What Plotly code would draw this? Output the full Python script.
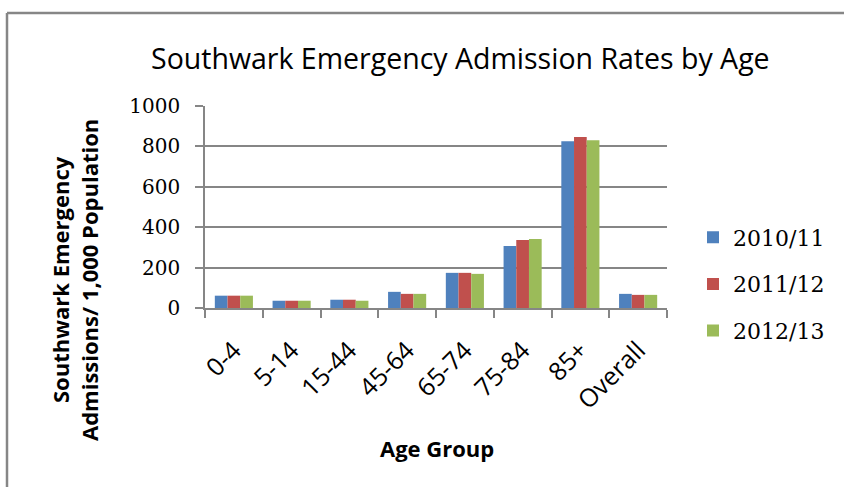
import plotly.graph_objects as go

categories = ["0-4", "5-14", "15-44", "45-64", "65-74", "75-84", "85+", "Overall"]
series_names = ["2010/11", "2011/12", "2012/13"]
v2010 = [61, 36, 41, 80, 174, 307, 826, 70]
v2011 = [61, 36, 41, 70, 174, 337, 846, 65]
v2012 = [61, 36, 36, 70, 169, 342, 831, 65]
colors = ["#4F81BD", "#C0504D", "#9BBB59"]
y_ticks = [0, 200, 400, 600, 800, 1000]

W, H = 844, 487
L, R, T, B = 205, 177, 106, 179
pw, ph = W - L - R, H - T - B

def px_x(x):
    return (x - L) / pw

def px_y(y):
    return (H - B - y) / ph

fig = go.Figure()
for name, vals, c in zip(series_names, [v2010, v2011, v2012], colors):
    fig.add_trace(go.Bar(x=categories, y=vals, name=name, marker_color=c,
                         marker_line_width=0, legendgroup=name))

grey = "#868686"
fig.update_layout(
    width=W, height=H,
    margin=dict(l=L, r=R, t=T, b=B, autoexpand=False),
    paper_bgcolor="white", plot_bgcolor="white",
    barmode="group", bargap=0.34, bargroupgap=0,
    showlegend=True,
    legend=dict(x=px_x(693), y=px_y(284), xanchor="left", yanchor="middle",
                font=dict(family="DejaVu Serif", size=22, color="black"),
                tracegroupgap=15, itemwidth=30, bgcolor="rgba(0,0,0,0)"),
    xaxis=dict(type="category", tickangle=-45, tickson="boundaries", ticks="outside",
               ticklen=8, tickcolor=grey, tickwidth=1.5, showline=True, linecolor=grey,
               linewidth=1.5, showgrid=False, ticklabelstandoff=16,
               tickfont=dict(family="Open Sans", size=25, color="black")),
    yaxis=dict(range=[0, 1000], tickvals=y_ticks, ticks="outside", ticklen=8,
               tickcolor=grey, tickwidth=1.5, showline=True, linecolor=grey, linewidth=1.5,
               showgrid=True, gridcolor=grey, gridwidth=1.5, zeroline=False,
               ticklabelstandoff=11,
               tickfont=dict(family="DejaVu Serif", size=20, color="black")),
    font=dict(family="Open Sans", color="black"),
)

fig.add_annotation(text="Southwark Emergency Admission Rates by Age", xref="paper", yref="paper",
                   x=px_x(460), y=px_y(58), showarrow=False, xanchor="center", yanchor="middle",
                   font=dict(family="Open Sans", size=28.5, color="black"))
fig.add_annotation(text="<b>Southwark Emergency<br>Admissions/ 1,000 Population</b>",
                   xref="paper", yref="paper", x=px_x(74), y=px_y(280), textangle=-90,
                   showarrow=False, xanchor="center", yanchor="middle",
                   font=dict(family="Open Sans", size=22, color="black"))
fig.add_annotation(text="<b>Age Group</b>", xref="paper", yref="paper",
                   x=px_x(437), y=px_y(448), showarrow=False, xanchor="center",
                   yanchor="middle", font=dict(family="Open Sans", size=22, color="black"))

fig.add_shape(type="line", xref="paper", yref="paper", x0=px_x(7), x1=px_x(7),
              y0=px_y(13), y1=px_y(490), line=dict(color=grey, width=2.5))
fig.add_shape(type="line", xref="paper", yref="paper", x0=px_x(7), x1=px_x(850),
              y0=px_y(13), y1=px_y(13), line=dict(color=grey, width=2.5))

fig.write_html("out.html")
